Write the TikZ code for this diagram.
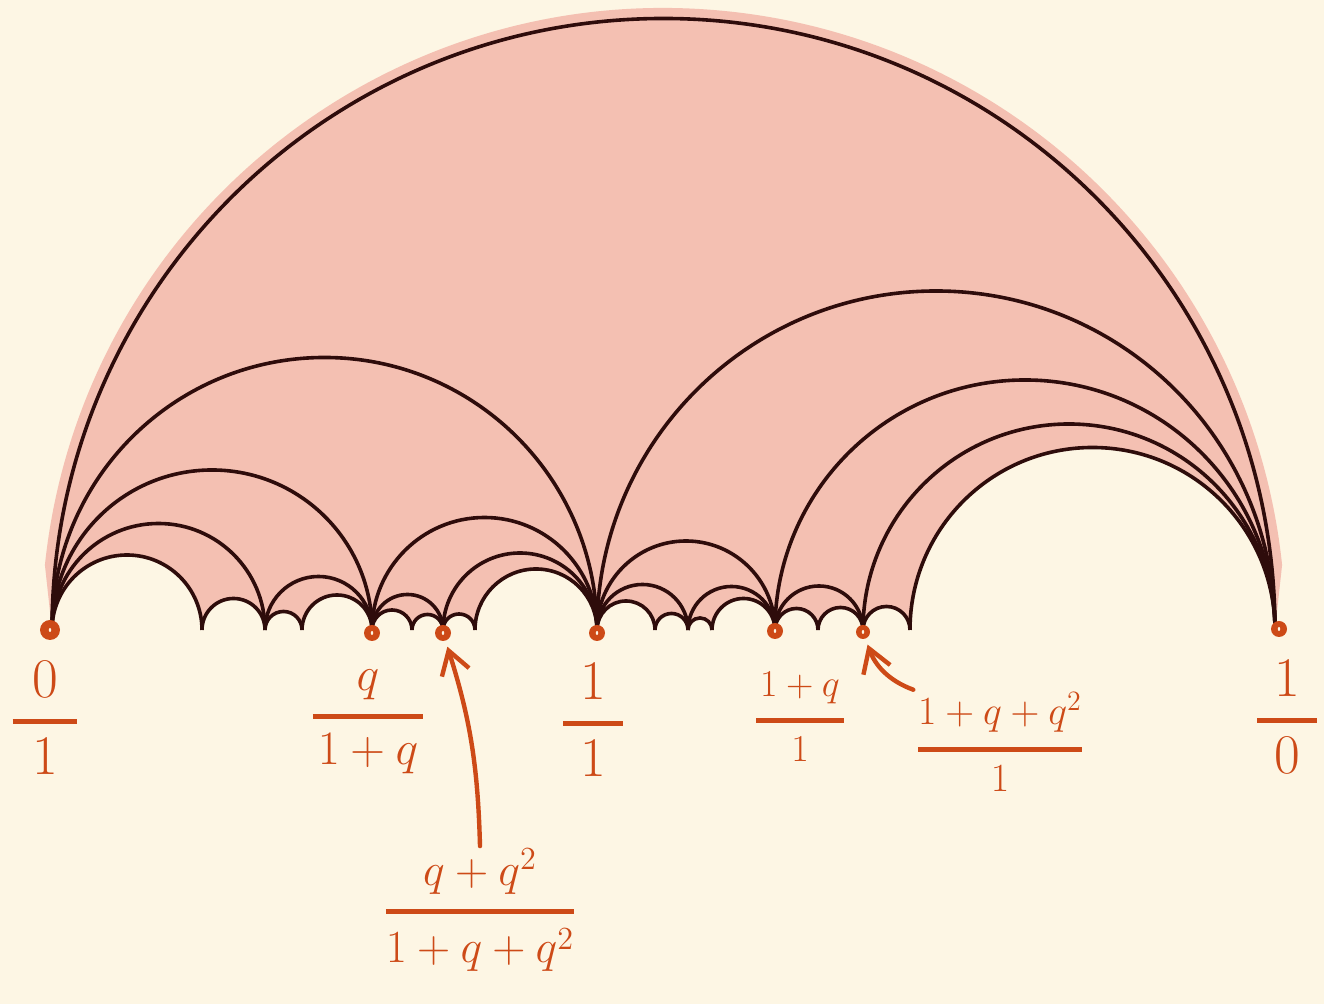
\RequirePackage{fix-cm}
\documentclass[tikz,border=0pt]{standalone}
\usepackage{amsmath}
\usepackage{xcolor}
\usepackage{tikz}
\usetikzlibrary{arrows.meta,calc}
\definecolor{FRCream}{HTML}{FDF6E4}
\definecolor{FRPink}{HTML}{F4C0B2}
\definecolor{FROrange}{HTML}{CD4A17}
\definecolor{FRInk}{HTML}{2E0C0B}
% [padding] size, numerator, denominator
\newcommand{\frlab}[4][0.1em]{\fontsize{#2}{#2}\selectfont
  $\genfrac{}{}{2.4pt}{0}{\hspace{#1}#3\hspace{#1}}{\hspace{#1}#4\hspace{#1}}$}
\tikzset{
  >={Straight Barb[length=4mm,width=5mm]},
  frarc/.style={draw=FRInk, line width=1.8pt},
  frdot/.style={circle, fill=FROrange, inner sep=0pt, minimum size=8pt,
    path picture={\fill[FRCream] (path picture bounding box.center) ellipse (0.6pt and 1pt);}},
  frlabel/.style={text=FROrange, inner sep=1pt},
  frarrow/.style={->, draw=FROrange, line width=2.2pt, line cap=round, shorten >=3pt}
}

\begin{document}
\begin{tikzpicture}[x=0.5pt, y=0.5pt]
  \useasboundingbox[fill=FRCream] (0,0) rectangle (1324,1004);
  % feet of the arcs on the base line
  \foreach \x in {52,202,265,302,372,412,443,475,597,655,688,712,775,818,863,910,1275}
    \coordinate (f\x) at (\x,374);
  \coordinate (ctr) at ($(f52)!0.5!(f1275)$);

  % pink wash, with the low humps left open
  \fill[FRPink] ($(ctr)+(174:622)$) arc[start angle=174, end angle=6, radius=622]
    -- (f1275) -- (f52) -- cycle;
  \foreach \a/\b in {52/202,202/265,265/302,302/372,372/412,412/443,443/475,475/597,
      597/655,655/688,688/712,712/775,775/818,818/863,863/910,910/1275}
    \fill[FRCream] (f\a) arc[start angle=180, end angle=0, radius={(\b-\a)/2}] -- cycle;

  % the arcs
  \foreach \a/\b in {52/1275,52/597,52/372,52/265,52/202,202/265,265/372,265/302,302/372,
      372/597,372/443,372/412,412/443,443/597,443/475,475/597,
      597/1275,597/775,597/688,597/655,655/688,688/775,688/712,712/775,
      775/1275,775/863,775/818,818/863,863/1275,863/910,910/1275}
    \draw[frarc] (f\a) arc[start angle=180, end angle=0, radius={(\b-\a)/2}];

  % marked points
  \node[frdot, minimum size=10pt] (d01) at ([xshift=-1pt]f52) {};
  \node[frdot] (dq) at ([yshift=-1.5pt]f372) {};
  \node[frdot] (dqq) at ([yshift=-1.5pt]f443) {};
  \node[frdot] (d11) at ([yshift=-1.5pt]f597) {};
  \node[frdot] (d1q) at ([yshift=-0.5pt]f775) {};
  \node[frdot, minimum size=7pt] (d1qq) at ([yshift=-1pt]f863) {};
  \node[frdot] (d10) at ([xshift=2pt,yshift=0.5pt]f1275) {};

  % labels
  \node[frlabel] (l01) at (45,286) {\frlab[0.35em]{28pt}{0}{1}};
  \node[frlabel] (lq) at (368,282) {\frlab{24pt}{q}{1+q}};
  \node[frlabel] (l11) at (593,284) {\frlab[0.3em]{28pt}{1}{1}};
  \node[frlabel] (l1q) at (800,287) {\frlab{19pt}{1+q}{1}};
  \node[frlabel] (l1qq) at (1000,262) {\frlab[0em]{20pt}{1+q+q^2}{1}};
  \node[frlabel] (l10) at (1287,287) {\frlab[0.3em]{28pt}{1}{0}};
  \node[frlabel] (lqq) at (480,94) {\frlab[0em]{23pt}{q+q^2}{1+q+q^2}};

  \draw[frarrow] (lqq.north) to[bend right=8] (dqq);
  \draw[frarrow] (l1qq.north west) to[out=160, in=-70] (d1qq);
\end{tikzpicture}
\end{document}
